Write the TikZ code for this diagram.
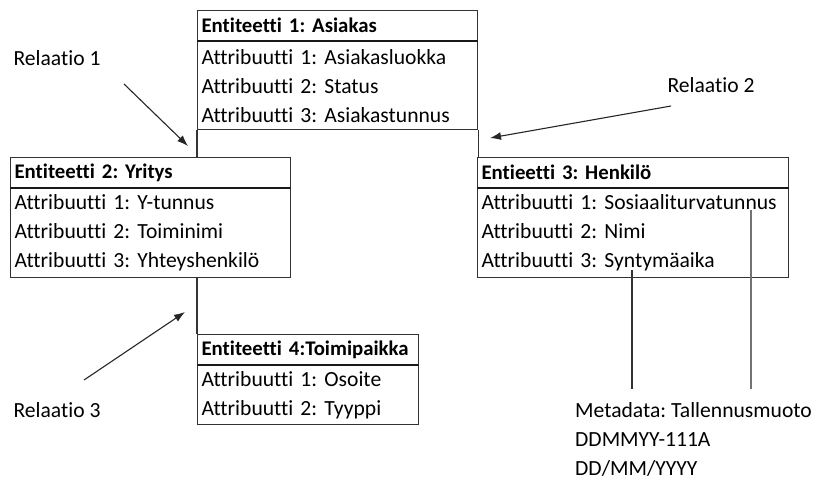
\documentclass[tikz,border=0pt]{standalone}
\usepackage{fontspec}
\setmainfont[Ligatures=NoCommon]{Carlito}
\usetikzlibrary{arrows.meta,positioning}
\frenchspacing

\begin{document}
\begin{tikzpicture}[
  x=1pt, y=-1pt,
  txt/.style={font=\fontsize{21.6}{29}\selectfont},
  head/.style={draw=black!80, line width=1.1pt, anchor=north west, inner xsep=4pt, inner ysep=0pt, minimum height=30pt, align=left, font=\fontsize{20.8}{29}\selectfont\bfseries},
  body/.style={txt, draw=black!80, line width=1.1pt, inner xsep=4pt, inner ysep=0pt, align=left},
  link/.style={draw=black!80, line width=1.1pt},
  sep/.style={draw=black!90, line width=2pt},
  rel/.style={-{Latex[length=11pt,width=8pt]}, line width=1.1pt, black!85}
]
\useasboundingbox (0,0) rectangle (818,480);

% entiteetit
\node[head, text width=272pt] (h1) at (197,10) {Entiteetti 1: Asiakas};
\node[body, text width=272pt, minimum height=88pt, below=0pt of h1] (b1)
  {Attribuutti 1: Asiakasluokka\\Attribuutti 2: Status\\Attribuutti 3: Asiakastunnus};

\node[head, text width=272pt] (h2) at (10,157) {Entiteetti 2: Yritys};
\node[body, text width=272pt, minimum height=89pt, below=0pt of h2] (b2)
  {Attribuutti 1: Y-tunnus\\Attribuutti 2: Toiminimi\\Attribuutti 3: Yhteyshenkilö};

\node[head, text width=303pt] (h3) at (477,157) {Entieetti 3: Henkilö};
\node[body, text width=303pt, minimum height=89pt, below=0pt of h3] (b3)
  {Attribuutti 1: Sosiaaliturvatunnus\\Attribuutti 2: Nimi\\Attribuutti 3: Syntymäaika};

\node[head, text width=213pt] (h4) at (197,334) {\mbox{Entiteetti 4:Toimipaikka}};
\node[body, text width=213pt, minimum height=59pt, below=0pt of h4] (b4)
  {Attribuutti 1: Osoite\\Attribuutti 2: Tyyppi};

\foreach \n in {h1,h2,h3,h4}
  \draw[sep] (\n.south west) -- (\n.south east);

% yhteydet
\draw[link] (b1.south west) -- (b1.south west |- h2.north);
\draw[link] (b1.south east) -- (b1.south east |- h3.north);
\draw[link] (h4.north west |- b2.south) -- (h4.north west);

% metadata
\node[txt, align=left, anchor=west, inner xsep=0pt] (meta) at (575,439)
  {Metadata: Tallennusmuoto\\DDMMYY-111A\\DD/MM/YYYY};
\coordinate (s1) at (632,270);
\coordinate (s2) at (751,210);
\coordinate (e1) at (632,389);
\coordinate (e2) at (751,389);
\draw[link] (s1) -- (e1);
\draw[link, draw=black!55] (s2) -- (e2);

% relaatiot
\node[txt, anchor=west] (r1) at (10,58) {Relaatio 1};
\node[txt, anchor=west] (r2) at (664,85) {Relaatio 2};
\node[txt, anchor=west] (r3) at (10,410) {Relaatio 3};
\coordinate (r1a) at (124,84);
\coordinate (r1b) at (188,146);
\coordinate (r2a) at (671,106);
\coordinate (r2b) at (490,138);
\coordinate (r3a) at (84,380);
\coordinate (r3b) at (185,312);
\draw[rel] (r1a) -- (r1b);
\draw[rel] (r2a) -- (r2b);
\draw[rel] (r3a) -- (r3b);
\end{tikzpicture}
\end{document}
